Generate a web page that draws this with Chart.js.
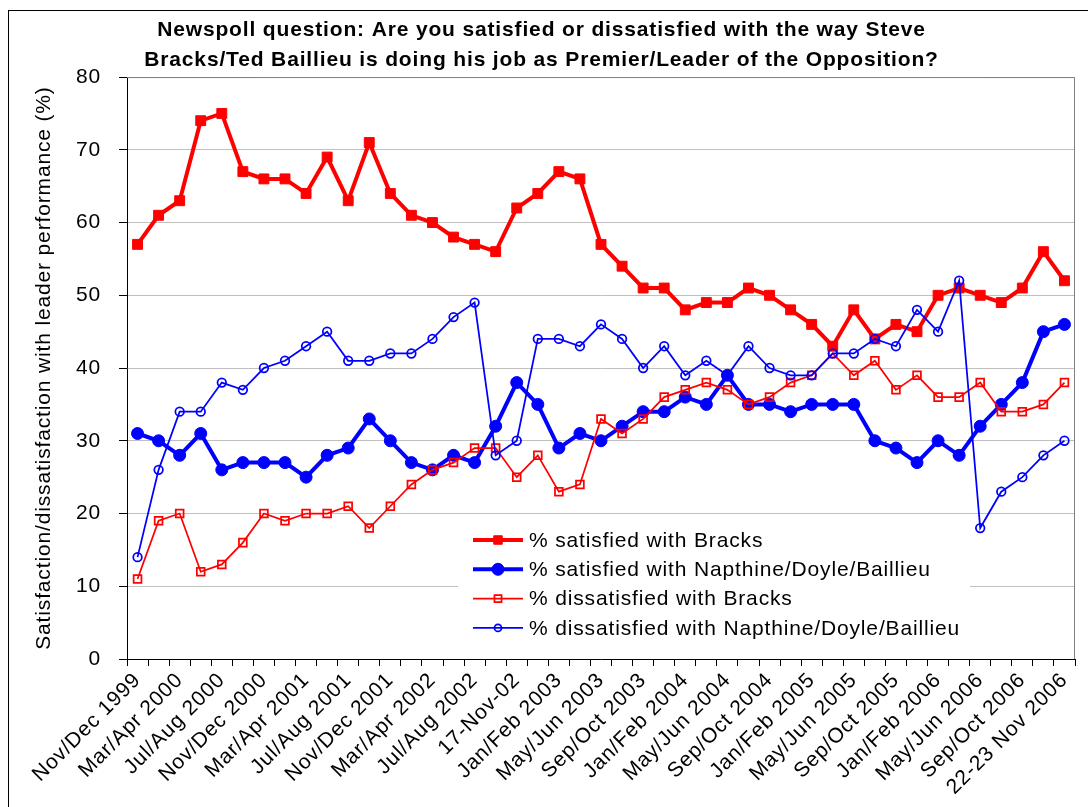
<!DOCTYPE html>
<html>
<head>
<meta charset="utf-8">
<script src="https://cdn.jsdelivr.net/npm/chart.js@4.4.1/dist/chart.umd.min.js"></script>
<style>
html,body{margin:0;padding:0;background:#fff}
canvas{display:block}
</style>
</head>
<body>
<canvas id="c" width="1088" height="807"></canvas>
<script>
// --- data (45 polls, axis labels every second poll) ---
const tickLabels=["Nov/Dec 1999","Mar/Apr 2000","Jul/Aug 2000","Nov/Dec 2000","Mar/Apr 2001","Jul/Aug 2001",
  "Nov/Dec 2001","Mar/Apr 2002","Jul/Aug 2002","17-Nov-02","Jan/Feb 2003","May/Jun 2003","Sep/Oct 2003",
  "Jan/Feb 2004","May/Jun 2004","Sep/Oct 2004","Jan/Feb 2005","May/Jun 2005","Sep/Oct 2005","Jan/Feb 2006",
  "May/Jun 2006","Sep/Oct 2006","22-23 Nov 2006"];
const categories=[];
tickLabels.forEach((l,i)=>{categories.push(l);if(i<tickLabels.length-1)categories.push("");});

const satBracks=[57,61,63,74,75,67,66,66,64,69,63,71,64,61,60,58,57,56,62,64,67,66,57,54,51,51,48,49,49,51,50,48,46,43,48,44,46,45,50,51,50,49,51,56,52];
const satOpp=[31,30,28,31,26,27,27,27,25,28,29,33,30,27,26,28,27,32,38,35,29,31,30,32,34,34,36,35,39,35,35,34,35,35,35,30,29,27,30,28,32,35,38,45,46];
const dissatBracks=[11,19,20,12,13,16,20,19,20,20,21,18,21,24,26,27,29,29,25,28,23,24,33,31,33,36,37,38,37,35,36,38,39,42,39,41,37,39,36,36,38,34,34,35,38];
const dissatOpp=[14,26,34,34,38,37,40,41,43,45,41,41,42,42,44,47,49,28,30,44,44,43,46,44,40,43,39,41,39,43,40,39,39,42,42,44,43,48,45,52,18,23,25,28,30];

const seriesNames=["% satisfied with Bracks","% satisfied with Napthine/Doyle/Baillieu",
  "% dissatisfied with Bracks","% dissatisfied with Napthine/Doyle/Baillieu"];
const titleLines=["Newspoll question: Are you satisfied or dissatisfied with the way Steve",
  "Bracks/Ted Baillieu is doing his job as Premier/Leader of the Opposition?"];
const yTitle="Satisfaction/dissatisfaction with leader performance (%)";

const RED="#ff0000",BLUE="#0000ff";
const FONT="'Liberation Sans', Arial, sans-serif";
Chart.defaults.font.family=FONT;
Chart.defaults.color="#000";

// excel text runs a bit wider than the browser's
const SPACING="0.85px";
const spacingPlugin={id:"spacing",
  beforeLayout(c){c.ctx.letterSpacing=SPACING;},
  beforeDraw(c){c.ctx.letterSpacing=SPACING;}};

// outer chart frame (left/top edges visible)
const framePlugin={id:"frame",beforeDraw(c){
  const ctx=c.ctx;ctx.save();
  ctx.fillStyle="#fff";ctx.fillRect(0,0,c.width,c.height);
  ctx.strokeStyle="#000";ctx.lineWidth=1;
  ctx.strokeRect(8.5,10.5,c.width+20,c.height+20);
  ctx.restore();
}};

// gray plot-area border on top and right
const plotBorder={id:"plotBorder",afterDraw(c){
  const {left,right,top,bottom}=c.chartArea,ctx=c.ctx;
  ctx.save();ctx.strokeStyle="#808080";ctx.lineWidth=1;
  ctx.beginPath();ctx.moveTo(left,top+0.5);ctx.lineTo(right-0.5,top+0.5);ctx.lineTo(right-0.5,bottom);ctx.stroke();
  ctx.restore();
}};

// legend sits inside the plot over the gridlines
const legendBox={id:"legendBox",beforeDatasetsDraw(c){
  const ctx=c.ctx;
  ctx.save();
  ctx.fillStyle="#fff";ctx.fillRect(458,519,512,134);
  const x0=473,x1=523,xm=498,tx=529;
  c.data.datasets.forEach((ds,i)=>{
    const y=540+i*29.3;
    ctx.strokeStyle=ds.borderColor;ctx.lineWidth=ds.borderWidth;
    ctx.beginPath();ctx.moveTo(x0,y);ctx.lineTo(x1,y);ctx.stroke();
    ctx.fillStyle=ds.pointBackgroundColor;ctx.strokeStyle=ds.pointBorderColor;ctx.lineWidth=ds.pointBorderWidth;
    Chart.helpers.drawPoint(ctx,{pointStyle:ds.pointStyle,radius:ds.legendRadius,borderWidth:ds.pointBorderWidth,rotation:0},xm,y);
    ctx.fillStyle="#000";ctx.font="21px "+FONT;ctx.textAlign="left";ctx.textBaseline="middle";
    ctx.fillText(ds.label,tx,y+1);
  });
  ctx.restore();
}};

new Chart(document.getElementById("c"),{
  type:"line",
  data:{labels:categories,datasets:[
    {label:seriesNames[0],data:satBracks,borderColor:RED,borderWidth:4,pointStyle:"rect",pointRadius:7,
      pointBackgroundColor:RED,pointBorderColor:RED,pointBorderWidth:1,legendRadius:6,order:4},
    {label:seriesNames[1],data:satOpp,borderColor:BLUE,borderWidth:4,pointStyle:"circle",pointRadius:6,
      pointBackgroundColor:BLUE,pointBorderColor:BLUE,pointBorderWidth:1,legendRadius:6,order:3},
    {label:seriesNames[2],data:dissatBracks,borderColor:RED,borderWidth:1.75,pointStyle:"rect",pointRadius:5.5,
      pointBackgroundColor:"rgba(0,0,0,0)",pointBorderColor:RED,pointBorderWidth:1.75,legendRadius:5,order:2},
    {label:seriesNames[3],data:dissatOpp,borderColor:BLUE,borderWidth:1.75,pointStyle:"circle",pointRadius:4.3,
      pointBackgroundColor:"rgba(0,0,0,0)",pointBorderColor:BLUE,pointBorderWidth:1.75,legendRadius:3.5,order:1}
  ]},
  options:{
    responsive:false,animation:false,devicePixelRatio:1,
    layout:{padding:{left:8,right:13,top:0,bottom:0}},
    elements:{line:{tension:0}},
    plugins:{
      legend:{display:false},tooltip:{enabled:false},
      title:{display:true,text:titleLines,color:"#000",font:{size:21,weight:"bold",lineHeight:1.43},padding:{top:15,bottom:2}}
    },
    scales:{
      x:{offset:true,
        grid:{offset:true,drawOnChartArea:false,tickLength:7,tickColor:"#000",color:"#000"},
        border:{color:"#000",width:1},
        ticks:{autoSkip:false,maxRotation:45,minRotation:45,padding:2,font:{size:21},color:"#000",
          callback:(v,i)=>categories[i]},
        afterFit(s){s.height=148;}
      },
      y:{min:0,max:80,
        ticks:{stepSize:10,padding:18,font:{size:21},color:"#000"},
        grid:{color:"#c0c0c0",tickColor:"#000",tickLength:8},
        border:{color:"#000",width:1},
        title:{display:true,text:yTitle,color:"#000",font:{size:21},padding:{top:24,bottom:0}},
        afterFit(s){s.width=119;}
      }
    }
  },
  plugins:[spacingPlugin,framePlugin,legendBox,plotBorder]
});
</script>
</body>
</html>
